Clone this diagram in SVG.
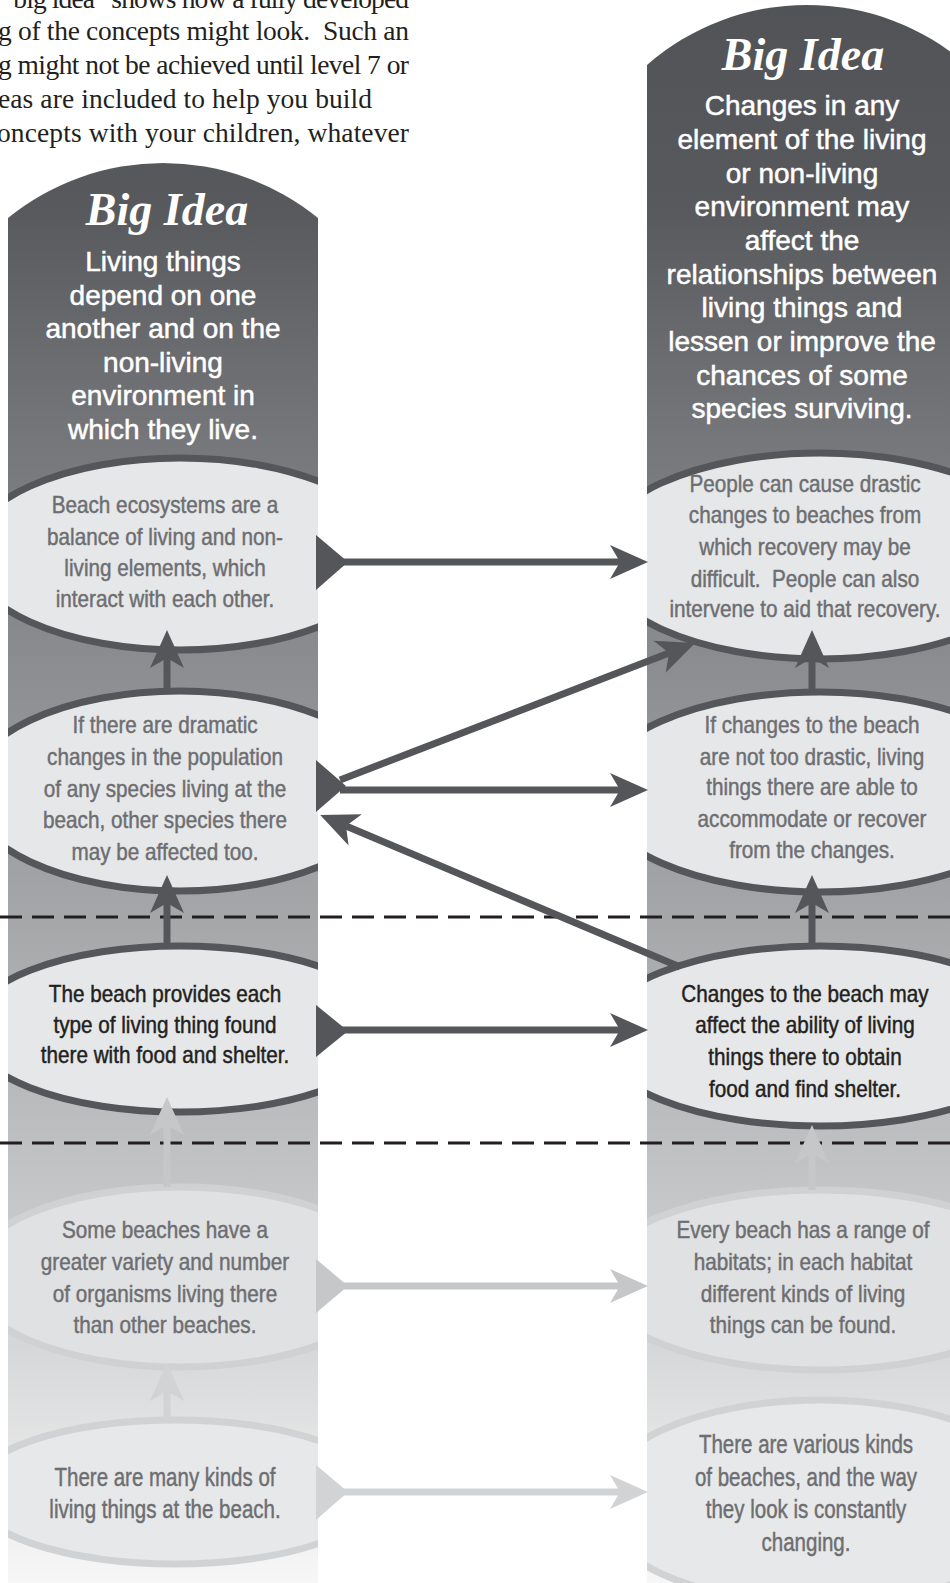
<svg xmlns="http://www.w3.org/2000/svg" width="950" height="1583" viewBox="0 0 950 1583">
<defs>
<linearGradient id="colg" gradientUnits="userSpaceOnUse" x1="0" y1="0" x2="0" y2="1583">
<stop offset="0" stop-color="#525357"/>
<stop offset="0.13" stop-color="#58595d"/>
<stop offset="0.28" stop-color="#76777a"/>
<stop offset="0.44" stop-color="#8f9093"/>
<stop offset="0.60" stop-color="#a9aaac"/>
<stop offset="0.73" stop-color="#c0c1c3"/>
<stop offset="0.85" stop-color="#d6d7d8"/>
<stop offset="1" stop-color="#f7f7f7"/>
</linearGradient>
<clipPath id="clipL"><rect x="8" y="0" width="310" height="1583"/></clipPath>
<clipPath id="clipR"><rect x="647" y="0" width="320" height="1583"/></clipPath>
<marker id="ahD" viewBox="-12 -19 42 38" markerWidth="42" markerHeight="38" refX="0" refY="0" orient="auto" markerUnits="userSpaceOnUse"><path d="M28,0 L-10,-17 L0,0 L-10,17 Z" fill="#55565a"/></marker>
<marker id="ahL1" viewBox="-12 -19 42 38" markerWidth="42" markerHeight="38" refX="0" refY="0" orient="auto" markerUnits="userSpaceOnUse"><path d="M28,0 L-10,-17 L0,0 L-10,17 Z" fill="#c6c7c9"/></marker>
<marker id="ahL2" viewBox="-12 -19 42 38" markerWidth="42" markerHeight="38" refX="0" refY="0" orient="auto" markerUnits="userSpaceOnUse"><path d="M28,0 L-10,-17 L0,0 L-10,17 Z" fill="#d2d3d5"/></marker>
<style>
.para{font-family:"Liberation Serif","Times New Roman",serif;font-size:27.5px;fill:#231f20}
.big{font-family:"Liberation Serif","Times New Roman",serif;font-size:46px;font-weight:bold;font-style:italic;fill:#ffffff;text-anchor:middle}
.sub{font-family:"Liberation Sans",Arial,sans-serif;font-size:28px;fill:#ffffff;stroke:#ffffff;stroke-width:0.5;text-anchor:middle}
.nt{font-family:"Liberation Sans",Arial,sans-serif;font-size:23px;text-anchor:middle;stroke-width:0.45}
.g1{fill:#6d6e71;stroke:#6d6e71}
.dk{fill:#231f20;stroke:#231f20}
.ell{fill:#e6e7e8;stroke:#55565a;stroke-width:7}
.ell4{fill:#e0e1e2;stroke:#d0d1d3;stroke-width:7}
.ell5{fill:#e7e8e9;stroke:#d1d2d4;stroke-width:7}
.arD{fill:none;stroke:#55565a;stroke-width:7;marker-end:url(#ahD)}
.arL1{fill:none;stroke:#c6c7c9;stroke-width:7;marker-end:url(#ahL1)}
.arL2{fill:none;stroke:#d2d3d5;stroke-width:7;marker-end:url(#ahL2)}
.dash{stroke:#231f20;stroke-width:3;stroke-dasharray:22 10;fill:none}
</style>
</defs>
<rect x="0" y="0" width="950" height="1583" fill="#ffffff"/>

<g id="intro-text">
<text class="para" x="2" y="8" textLength="407" lengthAdjust="spacing">“big idea” shows how a fully developed</text>
<text class="para" x="-2" y="40" textLength="411" lengthAdjust="spacing">g of the concepts might look.&#160; Such an</text>
<text class="para" x="-2" y="74" textLength="411" lengthAdjust="spacing">g might not be achieved until level 7 or</text>
<text class="para" x="-2" y="108" textLength="374" lengthAdjust="spacing">eas are included to help you build</text>
<text class="para" x="-3" y="142" textLength="412" lengthAdjust="spacing">oncepts with your children, whatever</text>
</g>

<g id="columns">
<path d="M8,218 A246,246 0 0 1 318,218 V1583 H8 Z" fill="url(#colg)"/>
<path d="M647,65 A243,243 0 0 1 967,65 V1583 H647 Z" fill="url(#colg)"/>
</g>

<g id="dividers">
<line class="dash" x1="0" y1="917" x2="950" y2="917"/>
<line class="dash" x1="0" y1="1143" x2="950" y2="1143"/>
</g>

<g id="bigidea-left">
<text class="big" x="167" y="225">Big Idea</text>
<text class="sub"><tspan x="163" y="271">Living things</tspan><tspan x="163" y="305">depend on one</tspan><tspan x="163" y="338">another and on the</tspan><tspan x="163" y="372">non-living</tspan><tspan x="163" y="405">environment in</tspan><tspan x="163" y="439">which they live.</tspan></text>
</g>

<g id="bigidea-right">
<text class="big" x="803" y="70">Big Idea</text>
<text class="sub"><tspan x="802" y="115">Changes in any</tspan><tspan x="802" y="149">element of the living</tspan><tspan x="802" y="183">or non-living</tspan><tspan x="802" y="216">environment may</tspan><tspan x="802" y="250">affect the</tspan><tspan x="802" y="284">relationships between</tspan><tspan x="802" y="317">living things and</tspan><tspan x="802" y="351">lessen or improve the</tspan><tspan x="802" y="385">chances of some</tspan><tspan x="802" y="418">species surviving.</tspan></text>
</g>

<g id="node-L1">
<ellipse class="ell" cx="180" cy="554" rx="212" ry="96" clip-path="url(#clipL)"/>
<text class="nt g1" transform="translate(165 0) scale(0.9 1)"><tspan x="0" y="513">Beach ecosystems are a</tspan><tspan x="0" y="545">balance of living and non-</tspan><tspan x="0" y="576">living elements, which</tspan><tspan x="0" y="607">interact with each other.</tspan></text>
</g>
<g id="node-L2">
<ellipse class="ell" cx="180" cy="791" rx="212" ry="100" clip-path="url(#clipL)"/>
<text class="nt g1" transform="translate(165 0) scale(0.9 1)"><tspan x="0" y="733">If there are dramatic</tspan><tspan x="0" y="765">changes in the population</tspan><tspan x="0" y="797">of any species living at the</tspan><tspan x="0" y="828">beach, other species there</tspan><tspan x="0" y="860">may be affected too.</tspan></text>
</g>
<g id="node-L3">
<ellipse class="ell" cx="180" cy="1029" rx="212" ry="83" clip-path="url(#clipL)"/>
<text class="nt dk" transform="translate(165 0) scale(0.9 1)"><tspan x="0" y="1002">The beach provides each</tspan><tspan x="0" y="1033">type of living thing found</tspan><tspan x="0" y="1063">there with food and shelter.</tspan></text>
</g>
<g id="node-L4">
<ellipse class="ell4" cx="180" cy="1277" rx="212" ry="90" clip-path="url(#clipL)"/>
<text class="nt g1" transform="translate(165 0) scale(0.9 1)"><tspan x="0" y="1238">Some beaches have a</tspan><tspan x="0" y="1270">greater variety and number</tspan><tspan x="0" y="1302">of organisms living there</tspan><tspan x="0" y="1333">than other beaches.</tspan></text>
</g>
<g id="node-L5">
<ellipse class="ell5" cx="175" cy="1492" rx="205" ry="72" clip-path="url(#clipL)"/>
<text class="nt g1" style="font-size:25px" transform="translate(165 0) scale(0.82 1)"><tspan x="0" y="1486">There are many kinds of</tspan><tspan x="0" y="1518">living things at the beach.</tspan></text>
</g>

<g id="node-R1">
<ellipse class="ell" cx="820" cy="556" rx="225" ry="103" clip-path="url(#clipR)"/>
<text class="nt g1" transform="translate(805 0) scale(0.9 1)"><tspan x="0" y="492">People can cause drastic</tspan><tspan x="0" y="523">changes to beaches from</tspan><tspan x="0" y="555">which recovery may be</tspan><tspan x="0" y="587">difficult.&#160; People can also</tspan><tspan x="0" y="617">intervene to aid that recovery.</tspan></text>
</g>
<g id="node-R2">
<ellipse class="ell" cx="820" cy="792" rx="225" ry="100" clip-path="url(#clipR)"/>
<text class="nt g1" transform="translate(812 0) scale(0.9 1)"><tspan x="0" y="733">If changes to the beach</tspan><tspan x="0" y="765">are not too drastic, living</tspan><tspan x="0" y="795">things there are able to</tspan><tspan x="0" y="827">accommodate or recover</tspan><tspan x="0" y="858">from the changes.</tspan></text>
</g>
<g id="node-R3">
<ellipse class="ell" cx="820" cy="1036" rx="225" ry="90" clip-path="url(#clipR)"/>
<text class="nt dk" transform="translate(805 0) scale(0.9 1)"><tspan x="0" y="1002">Changes to the beach may</tspan><tspan x="0" y="1033">affect the ability of living</tspan><tspan x="0" y="1065">things there to obtain</tspan><tspan x="0" y="1097">food and find shelter.</tspan></text>
</g>
<g id="node-R4">
<ellipse class="ell4" cx="820" cy="1280" rx="225" ry="90" clip-path="url(#clipR)"/>
<text class="nt g1" transform="translate(803 0) scale(0.9 1)"><tspan x="0" y="1238">Every beach has a range of</tspan><tspan x="0" y="1270">habitats; in each habitat</tspan><tspan x="0" y="1302">different kinds of living</tspan><tspan x="0" y="1333">things can be found.</tspan></text>
</g>
<g id="node-R5">
<ellipse class="ell5" cx="820" cy="1502" rx="223" ry="102" clip-path="url(#clipR)"/>
<text class="nt g1" style="font-size:25px" transform="translate(806 0) scale(0.82 1)"><tspan x="0" y="1453">There are various kinds</tspan><tspan x="0" y="1486">of beaches, and the way</tspan><tspan x="0" y="1518">they look is constantly</tspan><tspan x="0" y="1551">changing.</tspan></text>
</g>

<g id="connectors">
<polygon points="316,535 316,590 348,562" fill="#55565a"/>
<polygon points="316,760 316,812 346,786" fill="#55565a"/>
<polygon points="316,1005 316,1057 348,1031" fill="#55565a"/>
<polygon points="316,1259 316,1313 348,1286" fill="#c6c7c9"/>
<polygon points="316,1465 316,1520 348,1492" fill="#d2d3d5"/>
<line class="arD" x1="340" y1="562" x2="620" y2="562"/>
<line class="arD" x1="340" y1="780" x2="669" y2="653"/>
<line class="arD" x1="340" y1="790" x2="620" y2="790"/>
<line class="arD" x1="680" y1="967" x2="346" y2="826"/>
<line class="arD" x1="340" y1="1030" x2="620" y2="1030"/>
<line class="arL1" x1="340" y1="1286" x2="620" y2="1286"/>
<line class="arL2" x1="340" y1="1492" x2="620" y2="1492"/>
<line class="arD" x1="167" y1="692" x2="167" y2="658"/>
<line class="arD" x1="167" y1="946" x2="167" y2="903"/>
<line class="arL1" x1="167" y1="1187" x2="167" y2="1125"/>
<line class="arL2" x1="167" y1="1420" x2="167" y2="1391"/>
<line class="arD" x1="812" y1="690" x2="812" y2="658"/>
<line class="arD" x1="812" y1="947" x2="812" y2="903"/>
<line class="arL1" x1="812" y1="1190" x2="812" y2="1153"/>
</g>
</svg>
